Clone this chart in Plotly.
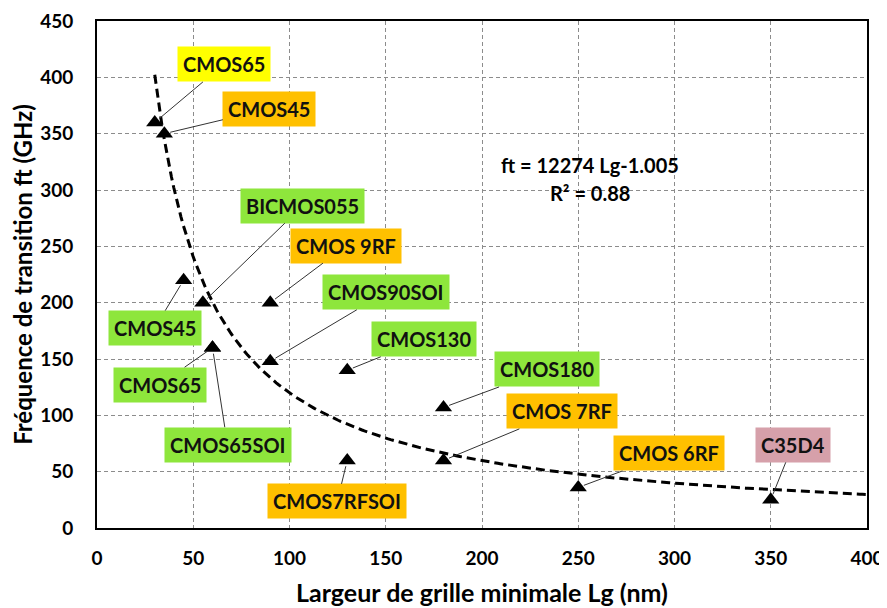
import numpy as np
import plotly.graph_objects as go

# ---- data ----
names = ["CMOS65", "CMOS45", "CMOS45", "BICMOS055", "CMOS65", "CMOS65SOI",
         "CMOS 9RF", "CMOS90SOI", "CMOS130", "CMOS7RFSOI", "CMOS180",
         "CMOS 7RF", "CMOS 6RF", "C35D4"]
lg_nm = [30, 35, 45, 55, 60, 60, 90, 90, 130, 130, 180, 180, 250, 350]
ft_ghz = [360, 350, 220, 200, 160, 160, 200, 148, 140, 60, 107, 60, 36, 25]
label_colors = ["#FFFF00", "#FFC000", "#8EE63C", "#8EE63C", "#8EE63C", "#8EE63C",
                "#FFC000", "#8EE63C", "#8EE63C", "#FFC000", "#8EE63C",
                "#FFC000", "#FFC000", "#D6A0AA"]
# label offsets (pixels) from the point
label_dx = [69, 105, -29, 100, -53, 15, 76, 116, 77, -10, 103, 118, 91, 22]
label_dy = [-58, -25, 48, -97, 37, 97, -57, -69, -31, 41, -38, -49, -34, -55]

# power-law trend shown on the chart: ft = 12274 * Lg^-1.005
fit_a = 12274
fit_b = -1.005
fit_range = [30, 400]

x_ticks = [0, 50, 100, 150, 200, 250, 300, 350, 400]
y_ticks = [0, 50, 100, 150, 200, 250, 300, 350, 400, 450]

FONT = "Lato"

fig = go.Figure()

xs = np.linspace(fit_range[0], fit_range[1], 300)
fig.add_trace(go.Scatter(x=xs, y=fit_a * xs ** fit_b, mode="lines",
                         line=dict(color="black", width=3, dash="9px,5px"),
                         hoverinfo="skip", showlegend=False))

fig.add_trace(go.Scatter(x=lg_nm, y=ft_ghz, mode="markers",
                         marker=dict(symbol="triangle-up", size=15, color="black"),
                         text=names, showlegend=False))

for n, x, y, c, dx, dy in zip(names, lg_nm, ft_ghz, label_colors, label_dx, label_dy):
    fig.add_annotation(x=x, y=y, text=n, showarrow=True, ax=dx, ay=dy,
                       arrowhead=0, arrowwidth=1, arrowcolor="#333333",
                       standoff=6, bgcolor=c, borderpad=5,
                       font=dict(family=FONT, size=20, color="#111111", weight="bold"))

fig.add_annotation(x=256, y=322, text="ft = 12274 Lg-1.005", showarrow=False,
                   font=dict(family=FONT, size=20, color="black", weight="bold"))
fig.add_annotation(x=256, y=297.5, text="R² = 0.88", showarrow=False,
                   font=dict(family=FONT, size=20, color="black", weight="bold"))

axis_common = dict(showgrid=True, gridcolor="#8C8C8C", griddash="4px,3px", gridwidth=1,
                   showline=True, linecolor="black", linewidth=2, mirror=True,
                   zeroline=False, ticks="", automargin=False,
                   tickfont=dict(family=FONT, size=19, color="black", weight="bold"))

fig.update_xaxes(range=[0, 400], tickvals=x_ticks, ticklabelstandoff=12,
                 title=dict(text="Largeur de grille minimale Lg (nm)", standoff=17,
                            font=dict(family=FONT, size=25, color="black", weight="bold")),
                 **axis_common)
fig.update_yaxes(range=[0, 450], tickvals=y_ticks, ticklabelstandoff=18,
                 title=dict(text="Fréquence de transition ft (GHz)", standoff=3,
                            font=dict(family=FONT, size=24, color="black", weight="bold")),
                 **axis_common)

# page body has an 8px margin, so the figure is 8px smaller on each axis
fig.update_layout(width=879, height=600, margin=dict(l=89, r=20, t=13, b=80),
                  paper_bgcolor="white", plot_bgcolor="white", showlegend=False)

fig.write_html("out.html")
